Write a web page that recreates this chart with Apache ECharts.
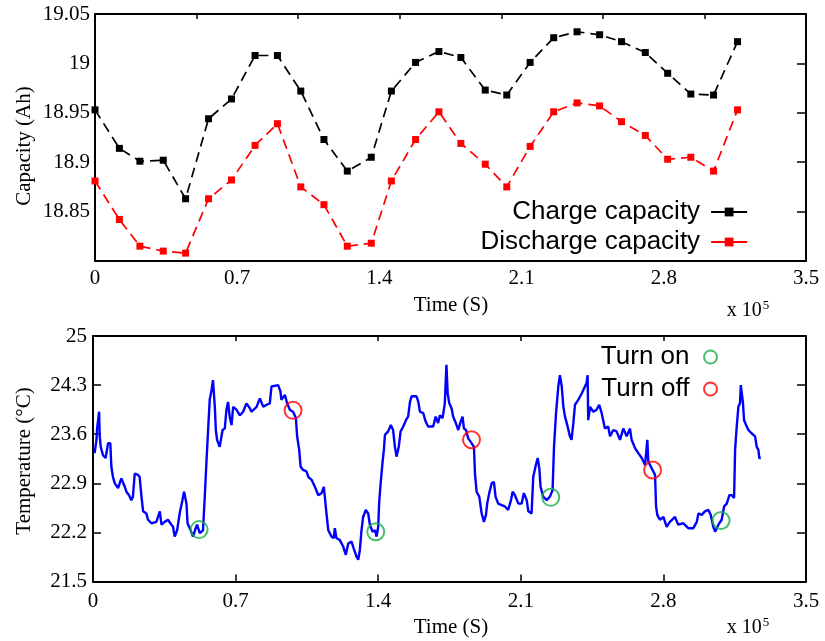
<!DOCTYPE html>
<html><head><meta charset="utf-8">
<script src="https://cdn.jsdelivr.net/npm/echarts@6/dist/echarts.min.js"></script>
<style>html,body{margin:0;padding:0;background:#fff}#c{width:825px;height:641px}</style>
</head><body><div id="c"></div>
<script>
// ---- Data (time in units of 1e5 s) ----
const capTime = [0, 0.12, 0.221, 0.336, 0.446, 0.559, 0.672, 0.788, 0.898, 1.013, 1.127, 1.242, 1.36, 1.459, 1.578, 1.693, 1.801, 1.921, 2.027, 2.142, 2.258, 2.373, 2.484, 2.592, 2.709, 2.819, 2.933, 3.045, 3.163];
const chargeCap = [18.953, 18.914, 18.901, 18.902, 18.863, 18.944, 18.964, 19.008, 19.008, 18.972, 18.923, 18.891, 18.905, 18.972, 19.001, 19.012, 19.006, 18.973, 18.968, 19.001, 19.026, 19.032, 19.029, 19.022, 19.011, 18.990, 18.969, 18.968, 19.022];
const dischargeCap = [18.881, 18.842, 18.815, 18.810, 18.808, 18.863, 18.882, 18.917, 18.939, 18.875, 18.857, 18.815, 18.818, 18.881, 18.923, 18.951, 18.919, 18.898, 18.875, 18.916, 18.951, 18.960, 18.957, 18.941, 18.927, 18.903, 18.905, 18.891, 18.953];

const tempTime = [0.008,0.017,0.020,0.030,0.033,0.038,0.049,0.062,0.074,0.085,0.090,0.098,0.107,0.123,0.139,0.147,0.156,0.164,0.177,0.188,0.196,0.205,0.221,0.229,0.238,0.246,0.262,0.270,0.287,0.311,0.328,0.336,0.352,0.368,0.385,0.393,0.401,0.413,0.426,0.439,0.447,0.459,0.464,0.475,0.491,0.504,0.511,0.524,0.540,0.549,0.557,0.565,0.573,0.582,0.589,
0.598,0.603,0.609,0.622,0.636,0.647,0.655,0.663,0.671,0.680,0.688,0.704,0.721,0.737,0.753,0.770,0.778,0.803,0.819,0.836,0.852,0.868,0.876,0.884,0.909,0.920,0.925,0.942,0.953,0.966,0.982,0.996,1.002,1.012,1.019,1.031,1.048,1.057,1.073,1.089,1.106,1.122,1.133,1.138,1.146,1.155,1.171,1.182,
1.187,1.195,1.212,1.228,1.241,1.253,1.269,1.280,1.294,1.302,1.310,1.318,1.326,1.339,1.351,1.359,1.372,1.384,1.392,1.400,1.405,1.412,1.421,1.428,1.433,1.449,1.462,1.473,1.482,1.490,1.501,1.510,1.523,1.536,1.547,1.556,1.564,1.588,1.597,1.605,1.621,1.633,1.645,1.670,1.682,1.694,1.703,1.716,1.727,1.735,1.741,1.749,1.760,
1.768,1.781,1.793,1.805,1.814,1.821,1.831,1.842,1.859,1.870,1.875,1.883,1.896,1.908,1.919,1.929,1.935,1.945,1.957,1.968,1.976,1.989,2.006,2.022,2.038,2.052,2.060,2.071,2.088,2.104,2.115,2.129,2.137,2.153,2.161,2.174,2.183,2.191,2.197,2.210,2.227,2.243,2.256,2.263,2.273,2.284,2.292,2.301,2.309,2.317,2.328,2.341,2.349,2.358,2.366,
2.382,2.399,2.415,2.423,2.428,2.431,2.440,2.456,2.472,2.485,2.497,2.505,2.513,2.529,2.538,2.554,2.570,2.587,2.603,2.620,2.636,2.644,2.661,2.677,2.694,2.710,2.721,2.726,2.743,2.759,2.764,2.770,2.783,2.800,2.816,2.832,2.857,2.873,2.898,2.922,2.947,
2.964,2.972,2.988,3.004,3.021,3.032,3.045,3.054,3.070,3.086,3.098,3.111,3.124,3.136,3.147,3.152,3.160,3.168,3.176,3.180,3.185,3.190,3.196,3.206,3.217,3.234,3.250,3.258,3.266,3.271,3.278];
const tempC = [23.33,23.52,23.68,23.92,23.57,23.42,23.30,23.26,23.47,23.47,23.14,22.99,22.90,22.83,22.97,22.99,22.85,22.78,22.73,22.66,22.71,23.04,23.02,22.99,22.71,22.50,22.47,22.38,22.33,22.35,22.50,22.31,22.35,22.38,22.31,22.28,22.14,22.23,22.48,22.66,22.78,22.61,22.33,22.26,22.14,22.26,22.31,22.19,22.23,22.73,23.21,23.66,24.09,24.23,24.37,
23.99,23.66,23.52,23.42,23.66,23.68,23.95,24.06,23.85,23.73,23.99,23.95,23.87,23.92,24.04,23.97,23.92,23.99,24.11,23.99,24.02,24.04,24.28,24.30,24.30,24.21,24.09,24.16,24.04,23.95,23.92,23.83,23.57,23.38,23.14,23.09,23.07,22.99,22.95,22.85,22.73,22.76,22.85,22.71,22.47,22.23,22.14,22.12,
22.26,22.12,22.09,22.00,21.88,22.04,22.07,21.97,21.85,21.81,21.95,22.23,22.42,22.52,22.47,22.31,22.21,22.23,22.14,22.28,22.64,22.90,23.19,23.38,23.59,23.64,23.73,23.66,23.42,23.28,23.42,23.64,23.71,23.80,23.85,24.06,24.14,24.14,24.06,23.92,23.90,23.78,23.71,23.71,23.85,23.76,23.87,23.83,24.04,24.59,24.18,24.04,23.97,
23.85,23.76,23.66,23.78,23.85,23.68,23.66,23.54,23.47,23.42,23.04,22.78,22.71,22.47,22.35,22.45,22.61,22.76,22.90,22.92,22.71,22.61,22.59,22.57,22.52,22.66,22.78,22.73,22.61,22.61,22.76,22.66,22.50,22.47,22.99,23.16,23.26,23.11,22.85,22.71,22.66,22.71,22.80,23.42,23.90,24.28,24.44,24.28,23.99,23.85,23.73,23.57,23.52,23.76,24.02,
24.09,24.18,24.28,24.33,24.44,23.80,23.99,23.92,23.95,24.02,23.90,23.92,23.68,23.71,23.57,23.66,23.64,23.52,23.68,23.57,23.68,23.52,23.40,23.33,23.26,23.16,23.52,23.21,23.11,23.02,22.57,22.45,22.38,22.42,22.28,22.35,22.42,22.31,22.33,22.26,22.26,
22.35,22.47,22.45,22.50,22.52,22.45,22.28,22.21,22.31,22.38,22.57,22.61,22.73,22.73,22.69,23.38,23.71,23.99,24.04,24.30,24.18,24.06,23.80,23.73,23.66,23.61,23.57,23.42,23.38,23.26,23.26];

const turnOnTime = [0.521, 1.388, 2.247, 3.083];
const turnOnTemp = [22.24, 22.21, 22.70, 22.37];
const turnOffTime = [0.982, 1.858, 2.747];
const turnOffTemp = [23.94, 23.52, 23.09];

// axis settings
const xMin = 0, xMax = 3.5, xStep = 0.7, xTopStepCap = 0.5;
const capMin = 18.8, capMax = 19.05, capStep = 0.05;
const tMin = 21.5, tMax = 25, tStep = 0.7;

const zip = (a, b) => a.map((v, i) => [v, b[i]]);
const serif = 'Liberation Serif', sans = 'Liberation Sans';
const fmt = v => String(+(+v).toFixed(2));
const frame = {show: true, onZero: false, lineStyle: {color: '#000', width: 2}};
const tickIn = len => ({show: true, inside: true, length: len, lineStyle: {color: '#000', width: 1.5}});
const lbl = m => ({color: '#000', fontFamily: serif, fontSize: 21, margin: m, formatter: fmt});
const none = {show: false};
const GREEN = '#1aaf4b', RED = '#ff0000';

const chart = echarts.init(document.getElementById('c'), null, {renderer: 'canvas'});
chart.setOption({
  animation: false,
  backgroundColor: '#fff',
  grid: [
    {left: 95, top: 14, right: 19, height: 247},
    {left: 93, top: 336, right: 19, height: 245.5}
  ],
  xAxis: [
    {gridIndex: 0, type: 'value', min: xMin, max: xMax, interval: xStep, position: 'bottom', axisLine: frame, axisTick: none, splitLine: none, axisLabel: lbl(7)},
    {gridIndex: 0, type: 'value', min: xMin, max: xMax, interval: xTopStepCap, position: 'top', axisLine: frame, axisTick: tickIn(5), splitLine: none, axisLabel: none},
    {gridIndex: 1, type: 'value', min: xMin, max: xMax, interval: xStep, position: 'bottom', axisLine: frame, axisTick: tickIn(7), splitLine: none, axisLabel: lbl(9)},
    {gridIndex: 1, type: 'value', min: xMin, max: xMax, interval: xStep, position: 'top', axisLine: frame, axisTick: tickIn(5), splitLine: none, axisLabel: none}
  ],
  yAxis: [
    {gridIndex: 0, type: 'value', min: capMin, max: capMax, interval: capStep, position: 'left', axisLine: frame, axisTick: none, splitLine: none, axisLabel: Object.assign(lbl(5), {showMinLabel: false})},
    {gridIndex: 0, type: 'value', min: capMin, max: capMax, interval: capStep, position: 'right', axisLine: frame, axisTick: tickIn(9), splitLine: none, axisLabel: none},
    {gridIndex: 1, type: 'value', min: tMin, max: tMax, interval: tStep, position: 'left', axisLine: frame, axisTick: tickIn(8), splitLine: none, axisLabel: lbl(6)},
    {gridIndex: 1, type: 'value', min: tMin, max: tMax, interval: tStep, position: 'right', axisLine: frame, axisTick: tickIn(9), splitLine: none, axisLabel: none}
  ],
  legend: [
    {data: ['Charge capacity', 'Discharge capacity'], orient: 'vertical', right: 72, top: 194, align: 'right',
     itemGap: 4, itemWidth: 36, itemHeight: 11, lineStyle: {type: 'solid', width: 1.8},
     textStyle: {fontFamily: sans, fontSize: 26, color: '#000', padding: [0, 6, 0, 0]}},
    {data: ['Turn on', 'Turn off'], orient: 'vertical', right: 102, top: 339, align: 'right',
     itemGap: 6, itemWidth: 26, itemHeight: 13,
     textStyle: {fontFamily: sans, fontSize: 26, color: '#000', padding: [0, 3, 0, 0]}}
  ],
  graphic: [
    {type: 'text', x: 24, y: 146, rotation: Math.PI / 2, style: {text: 'Capacity (Ah)', font: '21px "Liberation Serif"', fill: '#000', align: 'center', verticalAlign: 'middle'}},
    {type: 'text', x: 24, y: 461, rotation: Math.PI / 2, style: {text: 'Temperature (°C)', font: '21px "Liberation Serif"', fill: '#000', align: 'center', verticalAlign: 'middle'}},
    {type: 'text', x: 451, y: 305, style: {text: 'Time (S)', font: '21px "Liberation Serif"', fill: '#000', align: 'center', verticalAlign: 'middle'}},
    {type: 'text', x: 451, y: 627, style: {text: 'Time (S)', font: '21px "Liberation Serif"', fill: '#000', align: 'center', verticalAlign: 'middle'}},
    {type: 'text', x: 748, y: 311, style: {text: '{a|x 10}{b|5}', align: 'center', verticalAlign: 'middle',
      rich: {a: {fontFamily: serif, fontSize: 20, color: '#000'}, b: {fontFamily: serif, fontSize: 13, color: '#000', verticalAlign: 'top', padding: [0, 0, 10, 1]}}}},
    {type: 'text', x: 748, y: 628, style: {text: '{a|x 10}{b|5}', align: 'center', verticalAlign: 'middle',
      rich: {a: {fontFamily: serif, fontSize: 20, color: '#000'}, b: {fontFamily: serif, fontSize: 13, color: '#000', verticalAlign: 'top', padding: [0, 0, 10, 1]}}}}
  ],
  series: [
    {name: 'Charge capacity', type: 'line', xAxisIndex: 0, yAxisIndex: 0, data: zip(capTime, chargeCap),
     symbol: 'rect', symbolSize: 7, itemStyle: {color: '#000'}, lineStyle: {color: '#000', width: 1.7, type: [10, 6]}},
    {name: 'Discharge capacity', type: 'line', xAxisIndex: 0, yAxisIndex: 0, data: zip(capTime, dischargeCap),
     symbol: 'rect', symbolSize: 7, itemStyle: {color: RED}, lineStyle: {color: RED, width: 1.7, type: [10, 6]}},
    {name: 'Temperature', type: 'line', xAxisIndex: 2, yAxisIndex: 2, data: zip(tempTime, tempC),
     showSymbol: false, lineStyle: {color: '#0000ff', width: 2.4}, itemStyle: {color: '#0000ff'}},
    {name: 'Turn on', type: 'scatter', xAxisIndex: 2, yAxisIndex: 2, data: zip(turnOnTime, turnOnTemp), z: 5,
     symbol: 'circle', symbolSize: 17, itemStyle: {color: 'rgba(0,0,0,0)', borderColor: GREEN, borderWidth: 2}},
    {name: 'Turn off', type: 'scatter', xAxisIndex: 2, yAxisIndex: 2, data: zip(turnOffTime, turnOffTemp), z: 5,
     symbol: 'circle', symbolSize: 17, itemStyle: {color: 'rgba(0,0,0,0)', borderColor: RED, borderWidth: 2}}
  ]
});
</script></body></html>
